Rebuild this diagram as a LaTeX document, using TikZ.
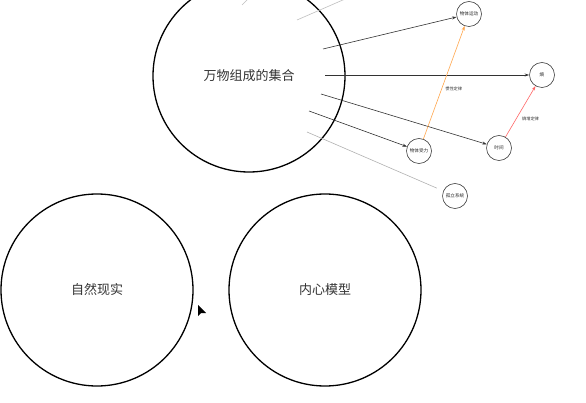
\documentclass[tikz,border=0pt]{standalone}
\usepackage{fontspec}
\newfontfamily\cjk{Noto Sans CJK SC}
\usetikzlibrary{arrows.meta}

\tikzset{
  bigset/.style={circle, draw=black, line width=1.3pt, minimum size=192pt,
    inner sep=0pt, font=\cjk\fontsize{13}{13}\selectfont, text=black!80},
  concept/.style={circle, draw=black!75, line width=0.6pt, minimum size=25pt,
    inner sep=0pt, font=\cjk\fontsize{4.6}{5}\selectfont, text=black!85},
  link/.style={draw=black!80, line width=0.6pt, -{Stealth[length=4.5pt,width=3pt]}},
  faint/.style={draw=black!25, line width=0.6pt},
  lawlabel/.style={font=\cjk\fontsize{4.2}{5}\selectfont, text=black!80, inner sep=1.5pt}
}

\begin{document}
\begin{tikzpicture}[x=1pt,y=-1pt]
\useasboundingbox[fill=white] (0,0) rectangle (586,403);

% the three large sets
\node[bigset] (all) at (249,76) {万物组成的集合};
\node[bigset] (nature) at (97,290) {自然现实};
\node[bigset] (mind) at (325,290) {内心模型};

% concepts
\node[concept] (motion) at (469,14) {物体运动};
\node[concept] (entropy) at (542,75) {熵};
\node[concept] (force) at (419,151) {物体受力};
\node[concept] (time) at (499,148) {时间};
\node[concept] (isolated) at (455,196) {孤立系统};

% start points inside the large set
\coordinate (s1) at (242,5);
\coordinate (e1) at (251,-4);
\coordinate (s2) at (297,20);
\coordinate (e2) at (352,-4);
\coordinate (s3) at (323,49);
\coordinate (s4) at (325,75);
\coordinate (s5) at (321,94);
\coordinate (s6) at (309,111);
\coordinate (s7) at (307,132);

\draw[faint] (s1) -- (e1);
\draw[faint] (s2) -- (e2);
\draw[link] (s3) -- (motion);
\draw[link] (s4) -- (entropy);
\draw[link] (s5) -- (time);
\draw[link] (s6) -- (force);
\draw[faint, draw=black!30, shorten >=7pt] (s7) -- (isolated);

% laws between concepts
\draw[draw=orange!70, line width=0.6pt, -{Stealth[length=4.5pt,width=3pt]}]
  (force) -- node[pos=0.44, right, lawlabel, xshift=2pt] {惯性定律} (motion);
\draw[draw=red!60, line width=0.6pt, -{Stealth[length=4.5pt,width=3pt]}]
  (time) -- node[pos=0.36, right, lawlabel, xshift=4pt] {熵增定律} (entropy);

% pointer
\fill[black] (198,305) -- (198,316) -- (201,313) -- (206,313) -- cycle;
\end{tikzpicture}
\end{document}
